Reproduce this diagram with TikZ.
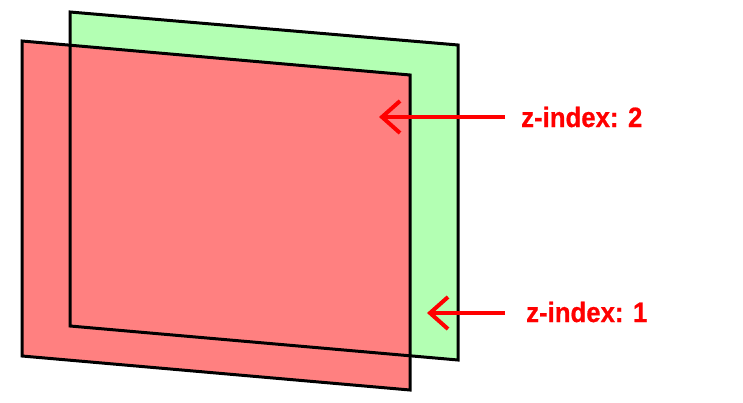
\documentclass[tikz,border=0pt]{standalone}
\usepackage{fontspec}
\usepackage{xcolor}
\usepackage{tikz}
\usetikzlibrary{arrows.meta, positioning}
\newfontfamily\labelfont[FakeStretch=0.92, FakeBold=0.6]{Liberation Sans}
\definecolor{backplate}{RGB}{179, 255, 179}
\definecolor{frontplate}{RGB}{255, 128, 128}
\definecolor{pointer}{RGB}{255, 0, 0}

\begin{document}
\begin{tikzpicture}[x=1pt, y=-1pt,
  plate/.style  = {draw=black, line width=3pt, line join=miter},
  zlabel/.style = {anchor=west, inner sep=0pt, text=pointer,
                   font=\labelfont\bfseries\fontsize{28}{28}\selectfont},
  arr/.style    = {-{Straight Barb[length=18pt, width=32pt]},
                   draw=pointer, line width=4pt},
]
  \useasboundingbox (0,0) rectangle (743,403);

  % Plates
  \fill[backplate]  (70,12) -- (458,45) -- (458,360) -- (70,326) -- cycle;
  \fill[frontplate] (22,41) -- (410,75) -- (410,390) -- (22,356) -- cycle;
  \draw[plate] (70,12) -- (458,45) -- (458,360) -- (70,326) -- cycle;
  \draw[plate] (22,41) -- (410,75) -- (410,390) -- (22,356) -- cycle;

  % Labels
  \node[zlabel] (ztwo) at (521,117) {z-index: 2};
  \node[zlabel] (zone) at (526,312) {z-index: 1};

  \coordinate (tiptwo) at (379,117);
  \coordinate (tipone) at (427,313);

  \draw[arr] ([xshift=-16pt]ztwo.west) -- (tiptwo);
  \draw[arr] ([xshift=-21pt]zone.west |- tipone) -- (tipone);
\end{tikzpicture}
\end{document}
